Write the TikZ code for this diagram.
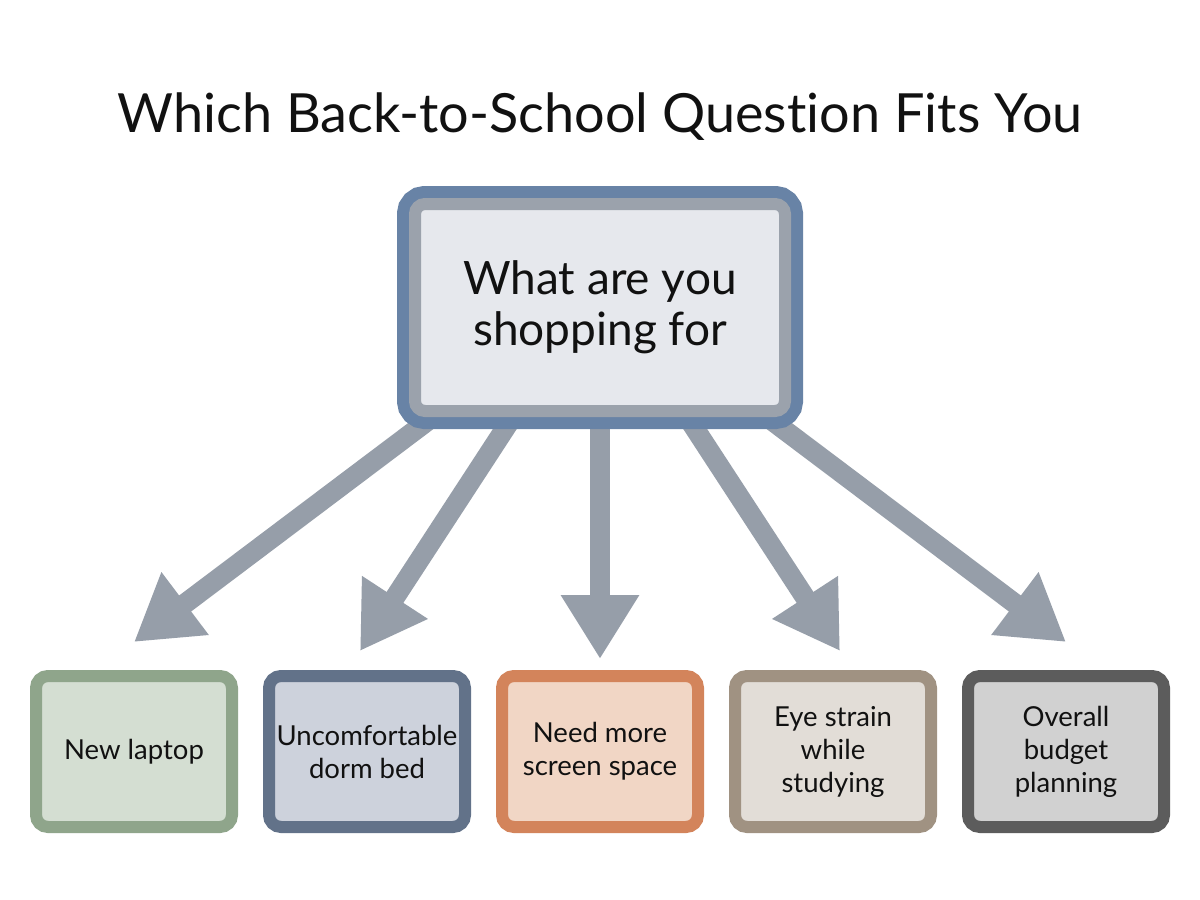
\documentclass[tikz,border=0pt]{standalone}
\usepackage{fontspec}
\setmainfont{Lato}[Ligatures=NoCommon]
\usetikzlibrary{arrows.meta,calc}
\pgfdeclarelayer{bg}
\pgfsetlayers{bg,main}
\definecolor{arrowgray}{HTML}{969EA9}
\definecolor{topblue}{HTML}{6883A6}
\definecolor{topring}{HTML}{9BA2AC}
\definecolor{topfill}{HTML}{E6E8ED}
\definecolor{bAline}{HTML}{8FA58B}\definecolor{bAfill}{HTML}{D4DED2}
\definecolor{bBline}{HTML}{627289}\definecolor{bBfill}{HTML}{CDD2DC}
\definecolor{bCline}{HTML}{D3845B}\definecolor{bCfill}{HTML}{F1D6C5}
\definecolor{bDline}{HTML}{A09282}\definecolor{bDfill}{HTML}{E2DDD7}
\definecolor{bEline}{HTML}{5C5C5C}\definecolor{bEfill}{HTML}{D1D1D1}
\definecolor{ink}{HTML}{111111}
\begin{document}
\begin{tikzpicture}[x=1pt,y=-1pt,
  titletext/.style={anchor=base,text=ink,font=\fontsize{54}{60}\selectfont},
  qbox/.style={draw=topring,fill=topfill,line width=12pt,rounded corners=10pt,
    minimum width=370pt,minimum height=207pt,inner sep=0pt,align=center,text=ink,
    font=\fontsize{46}{51}\selectfont,
    preaction={draw=topblue,line width=36pt}},
  abox/.style={line width=12pt,rounded corners=12pt,minimum width=196pt,
    minimum height=151pt,inner sep=0pt,align=center,text=ink,
    font=\fontsize{27.5}{33}\selectfont},
  arr/.style={draw=arrowgray,line width=20pt,
    -{Triangle[width=74pt 0 0,length=64pt 0 0]}}
]
\begin{pgfonlayer}{bg}
\fill[white] (0,0) rectangle (1200,900);
\end{pgfonlayer}
\useasboundingbox (0,0) rectangle (1200,900);
\node[titletext] (title) at (600,132) {Which Back-to-School Question Fits You};
\node[qbox] (q) at (600,307.5) {What are you\\shopping for};
\node[abox,draw=bAline,fill=bAfill] (b1) at (134,751.5) {New laptop};
\node[abox,draw=bBline,fill=bBfill] (b2) at (367,751.5) {Uncomfortable\\dorm bed};
\node[abox,draw=bCline,fill=bCfill] (b3) at (600,751.5) {Need more\\screen space};
\node[abox,draw=bDline,fill=bDfill] (b4) at (833,751.5) {Eye strain\\while\\studying};
\node[abox,draw=bEline,fill=bEfill] (b5) at (1066,751.5) {Overall\\budget\\planning};
\coordinate (s1) at ($(q.south)+(-138,-22)$);
\coordinate (s2) at ($(q.south)+(-73,-22)$);
\coordinate (s3) at ($(q.south)+(0,-22)$);
\coordinate (s4) at ($(q.south)+(73,-22)$);
\coordinate (s5) at ($(q.south)+(138,-22)$);
\coordinate (t1) at ($(b1.north)+(0,-28)$);
\coordinate (t2) at ($(b2.north)+(-7,-19)$);
\coordinate (t3) at ($(b3.north)+(0,-11)$);
\coordinate (t4) at ($(b4.north)+(7,-19)$);
\coordinate (t5) at ($(b5.north)+(0,-28)$);
\begin{pgfonlayer}{bg}
\draw[arr] (s1) -- (t1);
\draw[arr] (s2) -- (t2);
\draw[arr] (s3) -- (t3);
\draw[arr] (s4) -- (t4);
\draw[arr] (s5) -- (t5);
\end{pgfonlayer}
\end{tikzpicture}
\end{document}
